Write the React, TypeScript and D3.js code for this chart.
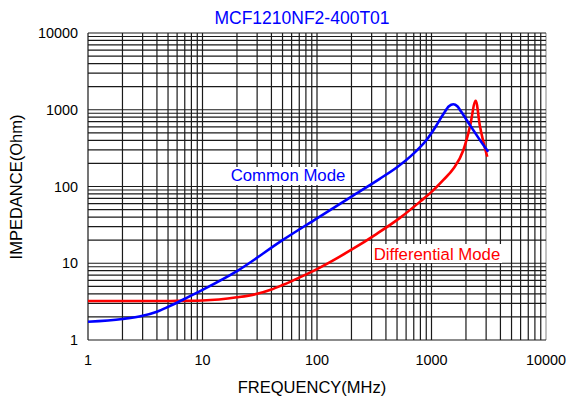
import React from 'react';
import * as d3 from 'd3';

const title = 'MCF1210NF2-400T01';
const xTicks = [1, 10, 100, 1000, 10000];
const yTicks = [1, 10, 100, 1000, 10000];

// Common Mode impedance (Ohm) vs frequency (MHz)
const commonFreq = [1, 2, 3, 4, 5, 7, 10, 20, 50, 100, 200, 350, 500, 700, 900, 1100, 1270, 1420, 1550, 1680, 1800, 2168, 2950, 3130];
const commonZ = [1.73, 1.88, 2.07, 2.34, 2.7, 3.45, 4.5, 7.9, 20, 38.5, 74, 125, 178, 270, 400, 620, 880, 1110, 1178, 1110, 960, 631, 320, 284];

// Differential Mode impedance (Ohm) vs frequency (MHz)
const diffFreq = [1, 3, 6, 10, 20, 30, 40, 50, 70, 100, 200, 330, 530, 800, 1000, 1270, 1550, 1900, 2168, 2432, 2653, 3070];
const diffZ = [3.22, 3.22, 3.23, 3.27, 3.6, 4.0, 4.55, 5.2, 6.5, 8.4, 15, 24, 39, 64, 85, 122, 170, 299, 603, 1312, 603, 244];

const W = 571;
const H = 403;
const margin = { top: 33, right: 25, bottom: 63, left: 88 };
const FONT = '"Liberation Sans", Arial, sans-serif';

function logGrid(lo: number, hi: number): number[] {
  const out: number[] = [];
  for (let p = lo; p < hi; p *= 10) {
    for (let k = 1; k < 10; k++) out.push(p * k);
  }
  out.push(hi);
  return out;
}

export default function App() {
  const x = d3.scaleLog().domain([1, 10000]).range([margin.left, W - margin.right]);
  const y = d3.scaleLog().domain([1, 10000]).range([H - margin.bottom, margin.top]);

  const line = d3
    .line<[number, number]>()
    .x(d => x(d[0]))
    .y(d => y(d[1]))
    .curve(d3.curveMonotoneX);

  const common = commonFreq.map((f, i) => [f, commonZ[i]] as [number, number]);
  const diff = diffFreq.map((f, i) => [f, diffZ[i]] as [number, number]);

  const x0 = x(1), x1 = x(10000), y0 = y(1), y1 = y(10000);

  return (
    <div>
      <style>{`body{margin:0}`}</style>
      <svg width={W} height={H} style={{ display: 'block', background: '#fff' }} fontFamily={FONT}>
        {/* vertical grid */}
        {logGrid(1, 10000).map((v, i) => (
          <line key={'v' + i} x1={x(v)} x2={x(v)} y1={y1} y2={y0}
            stroke={v === 10000 ? '#999' : '#1a1a1a'} strokeWidth={1.2} />
        ))}
        {/* horizontal grid */}
        {logGrid(1, 10000).map((v, i) => (
          <line key={'h' + i} x1={x0} x2={x1} y1={y(v)} y2={y(v)}
            stroke="#1a1a1a" strokeWidth={1.2} />
        ))}

        {/* curve labels with white boxes */}
        <rect x={228} y={167} width={120} height={18} fill="#fff" />
        <text x={288} y={181} textAnchor="middle" fontSize={16.8} fill="#0000ff">Common Mode</text>
        <rect x={372} y={244} width={130} height={19} fill="#fff" />
        <text x={437} y={260} textAnchor="middle" fontSize={16.8} fill="#ff0000">Differential Mode</text>

        <path d={line(diff) || ''} fill="none" stroke="#ff0000" strokeWidth={2.6} strokeLinejoin="round" />
        <path d={line(common) || ''} fill="none" stroke="#0000ff" strokeWidth={2.6} strokeLinejoin="round" />

        {/* tick labels */}
        {yTicks.map(v => (
          <text key={'yt' + v} x={78} y={y(v)} dy="0.36em" textAnchor="end" fontSize={14.4} fill="#000">{v}</text>
        ))}
        {xTicks.map(v => (
          <text key={'xt' + v} x={x(v)} y={364.5} textAnchor="middle" fontSize={14.4} fill="#000">{v}</text>
        ))}

        <text x={302} y={24} textAnchor="middle" fontSize={17.5} fill="#0000ff">{title}</text>
        <text x={312} y={393} textAnchor="middle" fontSize={16.5} fill="#000">FREQUENCY(MHz)</text>
        <text transform={`translate(22,187) rotate(-90)`} textAnchor="middle" fontSize={16.5} fill="#000">IMPEDANCE(Ohm)</text>
      </svg>
    </div>
  );
}
